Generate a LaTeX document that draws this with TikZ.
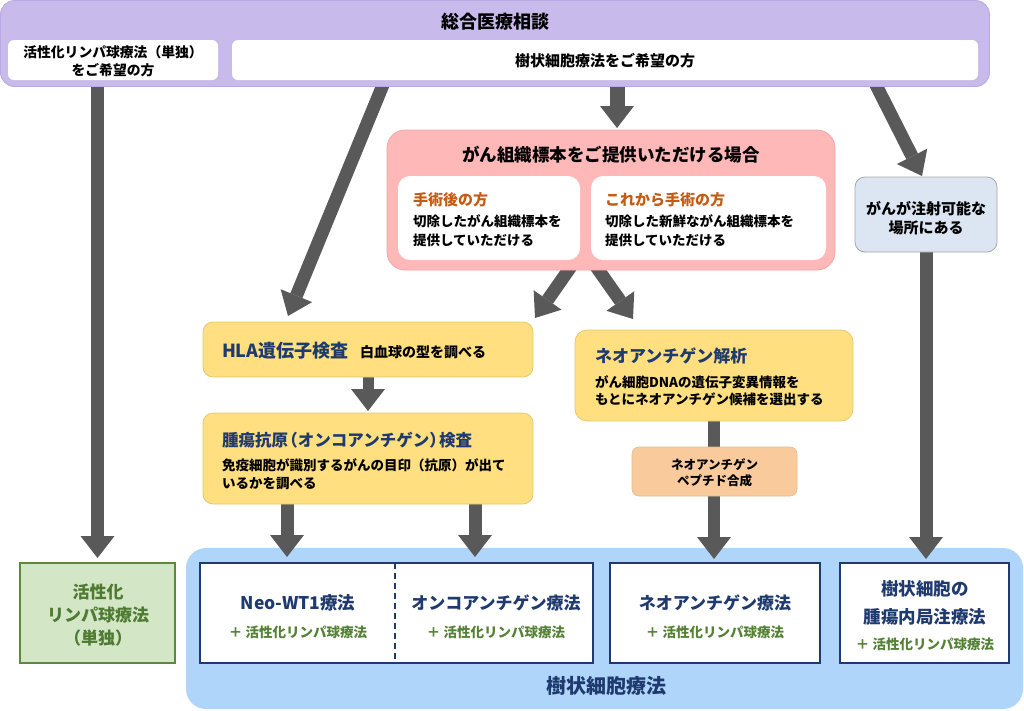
\documentclass[tikz,border=0pt]{standalone}
\usepackage{fontspec}
\setmainfont{Noto Sans CJK JP}
\usetikzlibrary{arrows.meta}
\definecolor{purp}{HTML}{C8BAEA}
\definecolor{purpedge}{HTML}{B9A9E0}
\definecolor{pinkf}{HTML}{FFB8B8}
\definecolor{pinkedge}{HTML}{EFA8A8}
\definecolor{yel}{HTML}{FFDF80}
\definecolor{yeledge}{HTML}{E3C874}
\definecolor{peach}{HTML}{F9CB9C}
\definecolor{peachedge}{HTML}{E6B98C}
\definecolor{injf}{HTML}{DCE6F2}
\definecolor{injedge}{HTML}{A6A6A6}
\definecolor{greenf}{HTML}{D3E6C6}
\definecolor{greenedge}{HTML}{5A8A3C}
\definecolor{greent}{HTML}{4E7B31}
\definecolor{plusg}{HTML}{548235}
\definecolor{bluef}{HTML}{B0D5FB}
\definecolor{navy}{HTML}{1F3A6E}
\definecolor{orangeT}{HTML}{C55A11}
\definecolor{arrowgray}{HTML}{595959}
\pgfdeclarelayer{bglayer}
\pgfdeclarelayer{arrowlayer}
\pgfsetlayers{bglayer,arrowlayer,main}
\begin{document}
\begin{tikzpicture}[x=1pt,y=-1pt,
  every node/.style={inner sep=0pt, outer sep=0pt},
  arr/.style={draw=arrowgray, line width=13pt, -{Triangle[width=34pt,length=22pt,line width=0pt]}},
  wbox/.style={fill=white, rounded corners=#1},
  ybox/.style={fill=yel, draw=yeledge, line width=0.8pt, rounded corners=10pt},
  tbox/.style={fill=white, draw=navy, line width=1.8pt},
  tx/.style={font=\bfseries\fontsize{#1}{#1}\selectfont},
  tl/.style={align=left, font=\bfseries\fontsize{13.5}{19}\selectfont},
  plus/.style={text=plusg, font=\bfseries\fontsize{13.5}{14}\selectfont},
]
\useasboundingbox (0,0) rectangle (1024,710);

% background layer: big blue box
\begin{pgfonlayer}{bglayer}
\node[fill=bluef, rounded corners=20pt, minimum width=837pt, minimum height=161pt] (blue) at (604.5,628.5) {};
\end{pgfonlayer}

% top box
\node[draw=purpedge, fill=purp, line width=0.8pt, rounded corners=14pt, minimum width=989pt, minimum height=86pt] (top) at (495,43.5) {};
\node[wbox=6pt, minimum width=210pt, minimum height=40pt] (w1) at (113,60) {};
\node[wbox=6pt, minimum width=746pt, minimum height=40pt] (w2) at (605,60) {};
\node[tx=18] (ttl) at (495,22) {総合医療相談};
\node[align=center, font=\bfseries\fontsize{13.8}{18}\selectfont] (w1t) at (113,61) {活性化リンパ球療法（単独）\\をご希望の方};
\node[tx=15] (w2t) at (605,61) {樹状細胞療法をご希望の方};

% pink box
\node[fill=pinkf, draw=pinkedge, line width=0.8pt, rounded corners=18pt, minimum width=448pt, minimum height=140pt] (pink) at (611,200) {};
\node[tx=17.5] (pinkt) at (611,155) {がん組織標本をご提供いただける場合};
\node[wbox=12pt, minimum width=182pt, minimum height=84pt] (pw1) at (489,218) {};
\node[wbox=12pt, minimum width=235pt, minimum height=84pt] (pw2) at (708.5,218) {};
\node[tx=15, anchor=west, text=orangeT] (pw1h) at (413,200) {手術後の方};
\node[tl, anchor=west] (pw1b) at (413,230.5) {切除したがん組織標本を\\提供していただける};
\node[tx=15, anchor=west, text=orangeT] (pw2h) at (605,200) {これから手術の方};
\node[tl, anchor=west] (pw2b) at (605,230.5) {切除した新鮮ながん組織標本を\\提供していただける};

% injectable
\node[fill=injf, draw=injedge, line width=0.8pt, rounded corners=10pt, minimum width=142pt, minimum height=75pt] (inj) at (926,214.5) {};
\node[align=center, font=\bfseries\fontsize{15}{19}\selectfont] (injt) at (926,218) {がんが注射可能な\\場所にある};

% HLA
\node[ybox, minimum width=330pt, minimum height=55pt] (hla) at (368,349.5) {};
\node[tx=18, anchor=west, text=navy] (hlat) at (222,351) {HLA遺伝子検査};
\node[tx=14, anchor=west] (hlab) at (360,352) {白血球の型を調べる};

% tumor antigen
\node[ybox, minimum width=330pt, minimum height=91pt] (tum) at (368,458.5) {};
\node[tx=16.5, anchor=west, text=navy] (tumt) at (222,440) {腫瘍抗原\kern-0.4em（オンコアンチゲン）\kern-0.4em検査};
\node[tl, anchor=west, font=\bfseries\fontsize{13.5}{18}\selectfont] (tumb) at (222,474) {免疫細胞が識別するがんの目印（抗原）が出て\\いるかを調べる};

% neoantigen analysis
\node[ybox, rounded corners=12pt, minimum width=278pt, minimum height=91pt] (neo) at (714,375.5) {};
\node[tx=17, anchor=west, text=navy] (neot) at (595,356) {ネオアンチゲン解析};
\node[tl, anchor=west, font=\bfseries\fontsize{13.5}{17.5}\selectfont] (neob) at (595,390.5) {がん細胞DNAの遺伝子変異情報を\\もとにネオアンチゲン候補を選出する};

% peptide
\node[fill=peach, draw=peachedge, line width=0.6pt, rounded corners=7pt, minimum width=165pt, minimum height=49pt] (pep) at (714.5,471.5) {};
\node[align=center, font=\bfseries\fontsize{12.5}{16.5}\selectfont] (pept) at (714.5,473) {ネオアンチゲン\\ペプチド合成};

% green box
\node[fill=greenf, draw=greenedge, line width=1.5pt, minimum width=155pt, minimum height=100pt] (green) at (97.5,613) {};
\node[align=center, text=greent, font=\bfseries\fontsize{17}{23}\selectfont] (greent) at (98,615) {活性化\\リンパ球療法\\（単独）};

% therapy boxes
\node[tbox, minimum width=393pt, minimum height=100pt] (combo) at (396.5,613) {};
\node[tbox, minimum width=210pt, minimum height=100pt] (neotx) at (715,613) {};
\node[tbox, minimum width=169pt, minimum height=100pt] (tree) at (924.5,613) {};
\draw[navy, line width=1.5pt, dash pattern=on 6pt off 4pt] ([xshift=-1.5pt]combo.north) -- ([xshift=-1.5pt]combo.south);

\node[tx=17.5, text=navy] (wt1) at (298,603) {Neo-WT1療法};
\node[plus] (wt1p) at (298,632) {＋ 活性化リンパ球療法};
\node[tx=17, text=navy] (onco) at (496,603) {オンコアンチゲン療法};
\node[plus] (oncop) at (496,632) {＋ 活性化リンパ球療法};
\node[tx=17, text=navy] (neotxt) at (715,603) {ネオアンチゲン療法};
\node[plus] (neotxp) at (715,632) {＋ 活性化リンパ球療法};
\node[align=center, text=navy, font=\bfseries\fontsize{17.5}{28}\selectfont] (treet) at (925,603) {樹状細胞の\\腫瘍内局注療法};
\node[plus] (treep) at (925,644) {＋ 活性化リンパ球療法};
\node[tx=20, text=navy] (bluet) at (606,686) {樹状細胞療法};

% arrows
\begin{pgfonlayer}{arrowlayer}
\coordinate (a1) at ([yshift=5pt]top.south -| green.north);
\draw[arr] (a1) -- ([yshift=5pt]green.north);
\coordinate (a2) at (385,80);
\draw[arr] (a2) -- ([shift={(-80pt,6pt)}]hla.north);
\coordinate (a3) at (617,80);
\draw[arr, line width=15pt, shorten >=2pt] (a3) -- (a3 |- pink.north);
\coordinate (a4) at (873.5,80);
\draw[arr] (a4) -- ([shift={(-4pt,1pt)}]inj.north);
\draw[arr] ([shift={(-39pt,5pt)}]pink.south) -- ([shift={(-76pt,-48pt)}]pink.south);
\draw[arr] ([shift={(-16pt,5pt)}]pink.south) -- ([shift={(22pt,-49pt)}]pink.south);
\draw[arr, line width=11pt, shorten >=2pt] ([yshift=3pt]hla.south) -- (hla.south |- tum.north);
\coordinate (t1) at ([shift={(-81pt,3pt)}]tum.south);
\coordinate (t2) at ([shift={(107pt,3pt)}]tum.south);
\draw[arr, shorten >=6pt] (t1) -- (t1 |- combo.north);
\draw[arr, shorten >=6pt] (t2) -- (t2 |- combo.north);
\draw[arr, line width=12pt, shorten >=4pt] ([yshift=3pt]neo.south) -- (neo.south |- neotx.north);
\draw[arr, shorten >=4pt] ([yshift=3pt]inj.south) -- (inj.south |- tree.north);
\end{pgfonlayer}
\end{tikzpicture}
\end{document}
